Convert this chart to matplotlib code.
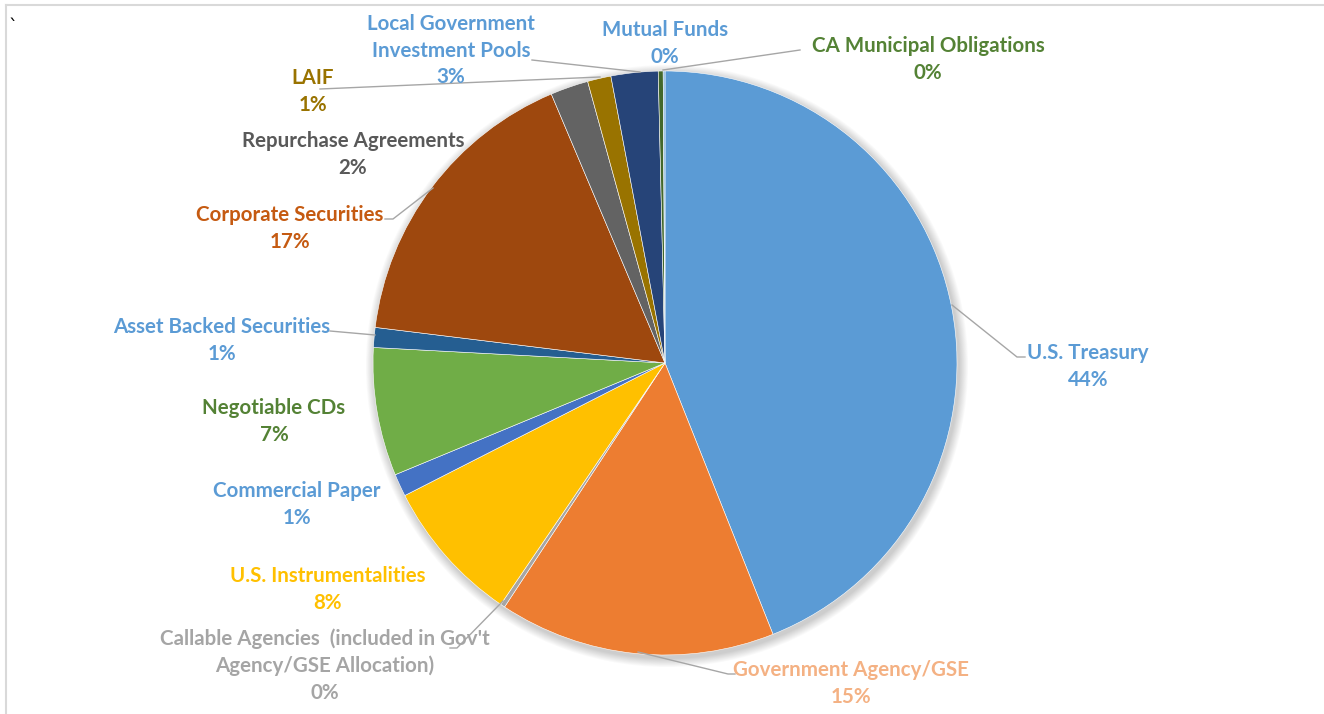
import matplotlib.pyplot as plt
from matplotlib.patches import Circle

# Portfolio allocation (percent of total), clockwise from 12 o'clock
categories = ['U.S. Treasury', 'Government Agency/GSE',
              "Callable Agencies  (included in Gov't\nAgency/GSE Allocation)",
              'U.S. Instrumentalities', 'Commercial Paper', 'Negotiable CDs',
              'Asset Backed Securities', 'Corporate Securities',
              'Repurchase Agreements', 'LAIF',
              'Local Government\nInvestment Pools', 'CA Municipal Obligations',
              'Mutual Funds']
values = [44.0, 15.3, 0.25, 8.0, 1.25, 7.1, 1.1, 16.7, 2.1, 1.3, 2.6, 0.27, 0.1]

slice_colors = ['#5B9BD5', '#ED7D31', '#A5A5A5', '#FFC000', '#4472C4', '#70AD47',
                '#255E91', '#9E480E', '#636363', '#997300', '#264478', '#43682B',
                '#7CAFDD']
label_colors = ['#5B9BD5', '#F4B183', '#A5A5A5', '#FFC000', '#5B9BD5', '#548235',
                '#5B9BD5', '#C55A11', '#595959', '#997300', '#5B9BD5', '#548235',
                '#5B9BD5']

# label anchor (pixel x, y-centre of first line) and leader lines, in image pixels
label_pos = [(1088, 351), (851, 668), (325, 636), (328, 574), (297, 489), (274, 406),
             (222, 325), (290, 213), (353, 139), (313, 76), (451, 22), (928, 44),
             (665, 28)]
leaders = [[(952, 305), (1017, 357), (1025, 357)],
           [(638, 652), (728, 674), (735, 674)],
           [(503, 601), (457, 648), (450, 648)],
           None, None, None,
           [(375, 335), (330, 331)],
           [(433, 188), (393, 219), (385, 219)],
           None,
           [(600, 77), (320, 89)],
           [(640, 72), (532, 60)],
           [(663, 70), (800, 50)],
           None]

W, H = 1324, 714
fig = plt.figure(figsize=(W / 100, H / 100), dpi=100)
ax = fig.add_axes([0, 0, 1, 1])

cx, cy, r = 665, H - 363, 292

# soft shadow behind the pie
for i in range(10):
    ax.add_patch(Circle((cx + 2, cy - 3), r + 1 + i * 0.9, color='black',
                        alpha=0.018, lw=0, zorder=0))

ax.pie(values, colors=slice_colors, startangle=90, counterclock=False,
       center=(cx, cy), radius=r, frame=True,
       wedgeprops=dict(linewidth=0.4, edgecolor='white'))
ax.set_xlim(0, W)
ax.set_ylim(0, H)
ax.set_aspect('equal')
ax.axis('off')

total = sum(values)
for name, v, col, (x, y) in zip(categories, values, label_colors, label_pos):
    txt = f'{name}\n{round(v / total * 100):.0f}%'
    ax.text(x, H - y + 8, txt, ha='center', va='top', color=col, fontsize=14.8,
            fontweight='bold', family=['Lato', 'DejaVu Sans'],
            linespacing=1.42, zorder=5)

for pts in leaders:
    if pts is None:
        continue
    xs = [p[0] for p in pts]
    ys = [H - p[1] for p in pts]
    ax.plot(xs, ys, color='#A6A6A6', lw=1.0, zorder=4)

# chart border and stray mark
ax.plot([6, W], [H - 5, H - 5], color='#D9D9D9', lw=1.5)
ax.plot([6, 6], [H - 5, 0], color='#D9D9D9', lw=1.5)
ax.text(9, H - 32, '`', fontsize=13, color='black')

fig.savefig('out.png', dpi=100)
